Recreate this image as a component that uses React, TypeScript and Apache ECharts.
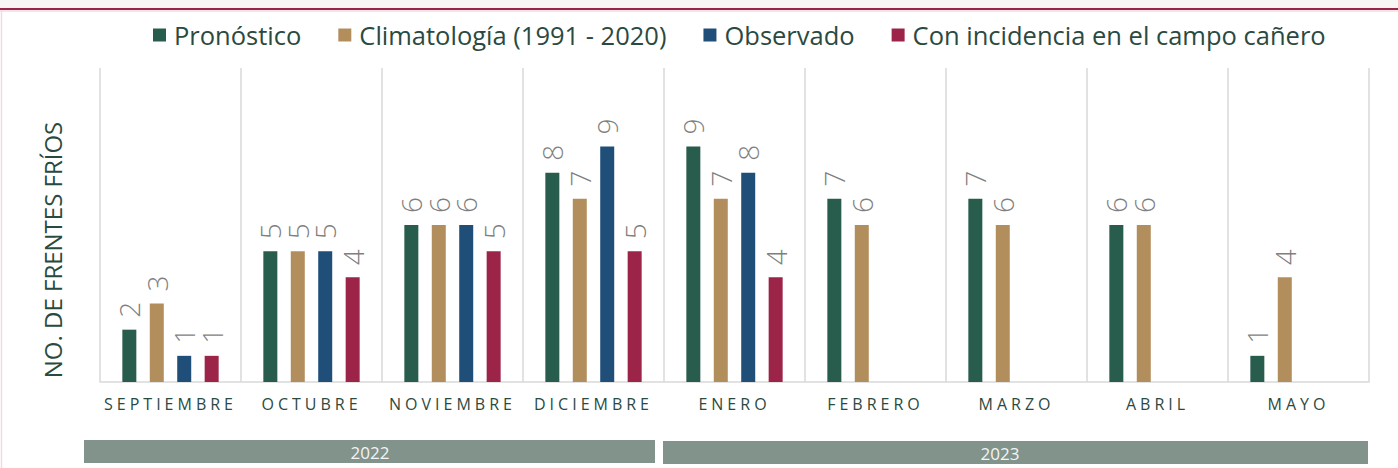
import React, { useEffect, useRef } from "react";
import * as echarts from "echarts";

const categories = ["SEPTIEMBRE", "OCTUBRE", "NOVIEMBRE", "DICIEMBRE", "ENERO", "FEBRERO", "MARZO", "ABRIL", "MAYO"];
const seriesNames = ["Pronóstico", "Climatología (1991 - 2020)", "Observado", "Con incidencia en el campo cañero"];
const pronostico = [2, 5, 6, 8, 9, 7, 7, 6, 1];
const climatologia = [3, 5, 6, 7, 7, 6, 6, 6, 4];
const observado = [1, 5, 6, 9, 8, null, null, null, null];
const incidencia = [1, 4, 5, 5, 4, null, null, null, null];
const colors = ["#285c4d", "#b38e5d", "#1f4e79", "#9d2449"];
const years = ["2022", "2023"];
const yAxisTitle = "NO. DE FRENTES FRÍOS";

const FONT = "Open Sans";
const TEXT_COLOR = "#2b4a3f";

export default function App() {
  const ref = useRef<HTMLDivElement>(null);
  useEffect(() => {
    if (!ref.current) return;
    const chart = echarts.init(ref.current, null, { renderer: "svg" });
    const allData = [pronostico, climatologia, observado, incidencia];
    const option: any = {
      animation: false,
      backgroundColor: "#ffffff",
      legend: {
        top: 17,
        left: 148,
        icon: "rect",
        itemWidth: 13,
        itemHeight: 13,
        itemGap: 37,
        textStyle: { fontSize: 25.5, color: TEXT_COLOR, fontFamily: FONT, padding: [0, 0, 0, 3] },
        data: seriesNames,
      },
      grid: { left: 100, right: 29, top: 68, bottom: 86 },
      xAxis: {
        type: "category",
        data: categories,
        axisLine: { lineStyle: { color: "#d9d9d9", width: 1.5 } },
        axisTick: { show: false },
        splitLine: { show: true, lineStyle: { color: "#d9d9d9", width: 1.5 } },
        axisLabel: { color: TEXT_COLOR, fontSize: 16, margin: 14, fontFamily: FONT },
      },
      yAxis: { type: "value", min: 0, max: 12, show: false },
      series: seriesNames.map((name, i) => ({
        name,
        type: "bar",
        data: allData[i],
        barWidth: 14,
        barGap: "96%",
        itemStyle: { color: colors[i] },
        label: {
          show: true,
          position: "top",
          rotate: 90,
          align: "left",
          verticalAlign: "middle",
          distance: 12,
          fontSize: 28,
          fontFamily: FONT,
          fontWeight: 300,
          color: "#7f7f7f",
        },
      })),
      graphic: [
        { type: "rect", shape: { x: 0, y: 0, width: 1398, height: 8 }, style: { fill: "#f7f6f4" }, silent: true },
        { type: "line", shape: { x1: 0, y1: 9, x2: 1398, y2: 9 }, style: { stroke: "#9d2449", lineWidth: 2 } },
        { type: "line", shape: { x1: 0, y1: 11, x2: 1398, y2: 11 }, style: { stroke: "#ecc9d3", lineWidth: 1 } },
        { type: "line", shape: { x1: 1.5, y1: 11, x2: 1.5, y2: 468 }, style: { stroke: "#f1dbe1", lineWidth: 1.5 } },
        {
          type: "text",
          x: 52,
          y: 250,
          rotation: Math.PI / 2,
          style: { text: yAxisTitle, fontSize: 24, fontFamily: FONT, fill: TEXT_COLOR, align: "center", verticalAlign: "middle" },
        },
        { type: "rect", shape: { x: 84, y: 440, width: 571, height: 23 }, style: { fill: "#82938b" } },
        { type: "text", x: 370, y: 452, style: { text: years[0], fontSize: 17, fontFamily: FONT, fill: "#f4f4f4", align: "center", verticalAlign: "middle" } },
        { type: "rect", shape: { x: 663, y: 441, width: 705, height: 23 }, style: { fill: "#82938b" } },
        { type: "text", x: 1000, y: 453, style: { text: years[1], fontSize: 17, fontFamily: FONT, fill: "#f4f4f4", align: "center", verticalAlign: "middle" } },
      ],
    };
    chart.setOption(option);
    const texts = ref.current.querySelectorAll("text");
    texts.forEach((t) => {
      if (categories.includes((t.textContent || "").trim())) {
        t.setAttribute("letter-spacing", "4");
      }
    });
    return () => chart.dispose();
  }, []);
  return <div ref={ref} style={{ position: "absolute", left: 0, top: 0, width: 1398, height: 468 }} />;
}
